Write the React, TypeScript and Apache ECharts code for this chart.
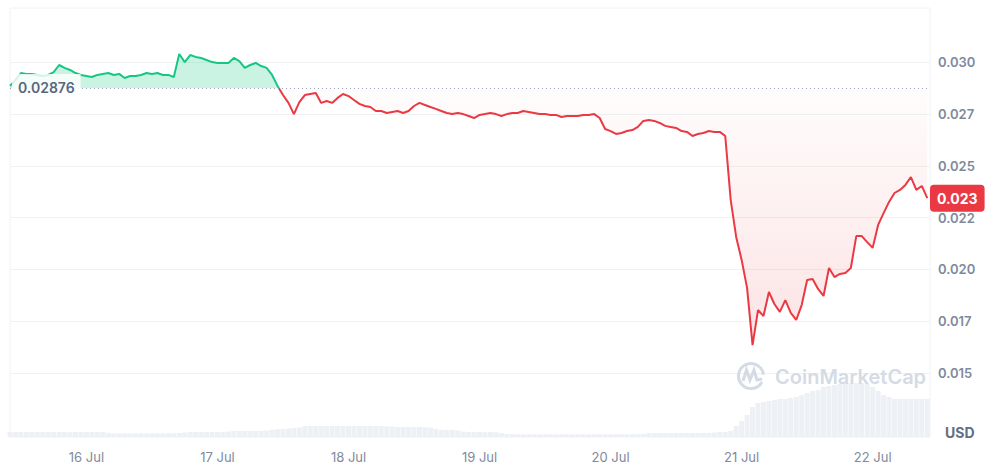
import React, { useEffect, useRef } from "react";
import * as echarts from "echarts";

// hours after 15 Jul 00:00 of the first hourly sample
const startHour = 10;
const refPrice = 0.02876;
const dayLabels = ["16 Jul", "17 Jul", "18 Jul", "19 Jul", "20 Jul", "21 Jul", "22 Jul"];
// price tick range shown on the right axis
const priceTickMin = 0.015;
const priceTickMax = 0.03;
const priceStep = 0.0025;

const prices = [
  0.02886, 0.02915, 0.02948, 0.02944, 0.02944, 0.02939, 0.02934, 0.02939, 0.02953, 0.02987,
  0.02973, 0.02963, 0.02948, 0.02939, 0.02934, 0.02929, 0.02939, 0.02944, 0.02948, 0.02939,
  0.02944, 0.02924, 0.02934, 0.02934, 0.02939, 0.02948, 0.02944, 0.02948, 0.02939, 0.02939,
  0.02929, 0.0304, 0.03001, 0.03035, 0.03026, 0.03021, 0.03011, 0.03001, 0.02997, 0.02997,
  0.02997, 0.03021, 0.03006, 0.02973, 0.02987, 0.02997, 0.02982, 0.02973, 0.02939, 0.02886,
  0.02842, 0.02804, 0.0275, 0.02808, 0.02842, 0.02847, 0.02852, 0.02804, 0.02813, 0.02804,
  0.02828, 0.02847, 0.02837, 0.02818, 0.02799, 0.02789, 0.02784, 0.02765, 0.02765, 0.02755,
  0.0276, 0.02765, 0.02755, 0.02765, 0.02789, 0.02804, 0.02794, 0.02784, 0.02775, 0.02765,
  0.02755, 0.0275, 0.02755, 0.0275, 0.02741, 0.02731, 0.02746, 0.0275, 0.02755, 0.0275,
  0.02741, 0.0275, 0.02755, 0.02755, 0.02765, 0.0276, 0.02755, 0.0275, 0.0275, 0.02746,
  0.02746, 0.02736, 0.02741, 0.02741, 0.02741, 0.02746, 0.02746, 0.0275, 0.02731, 0.02678,
  0.02668, 0.02654, 0.02659, 0.02668, 0.02673, 0.02688, 0.02717, 0.02721, 0.02717, 0.02707,
  0.02693, 0.02688, 0.02683, 0.02668, 0.02664, 0.02644, 0.02654, 0.02659, 0.02668, 0.02664,
  0.02664, 0.02644, 0.02335, 0.02157, 0.02046, 0.0191, 0.01635, 0.01804, 0.01775, 0.01891,
  0.01833, 0.01795, 0.01852, 0.0179, 0.01756, 0.01828, 0.01949, 0.01954, 0.01906, 0.01872,
  0.02007, 0.01963, 0.01978, 0.01983, 0.02007, 0.02161, 0.02161, 0.02132, 0.02104, 0.02215,
  0.02272, 0.02326, 0.02369, 0.02384, 0.02408, 0.02446, 0.02384, 0.02403, 0.02344,
];

// 24h volume (arbitrary units, relative)
const volumes = [
  0.5, 0.5, 0.51, 0.51, 0.5, 0.5, 0.5, 0.51, 0.5, 0.5,
  0.5, 0.49, 0.5, 0.5, 0.5, 0.49, 0.5, 0.5, 0.42, 0.37,
  0.37, 0.37, 0.36, 0.37, 0.37, 0.36, 0.37, 0.37, 0.37, 0.37,
  0.38, 0.4, 0.45, 0.5, 0.5, 0.5, 0.5, 0.51, 0.5, 0.5,
  0.55, 0.6, 0.6, 0.6, 0.61, 0.62, 0.62, 0.65, 0.72, 0.77,
  0.8, 0.85, 0.9, 0.95, 1.1, 1.1, 1.1, 1.11, 1.1, 1.1,
  1.1, 1.1, 1.11, 1.1, 1.1, 1.1, 1.09, 1.1, 1.1, 1.08,
  1.05, 1.0, 1.0, 1.0, 1.0, 1.0, 0.98, 0.95, 0.8, 0.72,
  0.7, 0.7, 0.65, 0.55, 0.5, 0.5, 0.5, 0.48, 0.5, 0.48,
  0.4, 0.3, 0.27, 0.27, 0.27, 0.27, 0.27, 0.27, 0.27, 0.27,
  0.27, 0.27, 0.27, 0.27, 0.27, 0.27, 0.27, 0.27, 0.27, 0.27,
  0.27, 0.27, 0.27, 0.27, 0.28, 0.28, 0.3, 0.4, 0.4, 0.4,
  0.4, 0.4, 0.4, 0.41, 0.4, 0.4, 0.4, 0.41, 0.4, 0.45,
  0.5, 0.52, 0.6, 1.1, 1.6, 2.2, 3.0, 3.4, 3.5, 3.6,
  3.7, 3.8, 3.8, 3.9, 4.0, 4.2, 4.4, 4.6, 4.7, 5.0,
  5.1, 5.2, 5.3, 5.4, 5.4, 5.4, 5.4, 5.3, 5.0, 4.6,
  4.2, 4.0, 3.8, 3.8, 3.8, 3.8, 3.8, 3.8, 3.8,
];

const GREEN = "#16c784";
const RED = "#ea3943";
const FONT = "Inter";
const HOURS_PER_DAY = 24;

function trunc3(v: number) {
  return (Math.floor(v * 1000 + 1e-6) / 1000).toFixed(3);
}
function isMultiple(v: number, step: number) {
  const k = v / step;
  return Math.abs(k - Math.round(k)) < 1e-6;
}

export default function App() {
  const ref = useRef<HTMLDivElement>(null);
  useEffect(() => {
    document.body.style.margin = "0";
    const chart = echarts.init(ref.current!, null, { renderer: "svg" });
    const lineData = prices.map((p, i) => [startHour + i, p]);
    const volData = volumes.map((v, i) => [startHour + i, v]);
    const pMax = Math.max(...prices);
    const pMin = Math.min(...prices);
    const f = (pMax - refPrice) / (pMax - pMin);
    const last = prices[prices.length - 1];

    const xCommon = {
      type: "value",
      min: 10,
      max: 178.5,
      minInterval: HOURS_PER_DAY,
      maxInterval: HOURS_PER_DAY,
      splitNumber: 7,
      axisLine: { show: false },
      axisTick: { show: false },
      splitLine: { show: false },
    };

    chart.setOption({
      animation: false,
      textStyle: { fontFamily: FONT },
      grid: [
        {
          left: 10,
          right: 72,
          top: 8,
          bottom: 33,
          show: true,
          borderColor: "#eff2f5",
          borderWidth: 1,
        },
        { left: 10, right: 72, top: 62.3, bottom: 97 },
      ],
      xAxis: [
        {
          ...xCommon,
          gridIndex: 0,
          axisLabel: {
            color: "#808a9d",
            fontSize: 13,
            fontFamily: FONT,
            margin: 13,
            formatter: (v: number) =>
              isMultiple(v, HOURS_PER_DAY) ? dayLabels[Math.round(v / HOURS_PER_DAY) - 1] ?? "" : "",
          },
        },
        { ...xCommon, gridIndex: 1, axisLabel: { show: false } },
      ],
      yAxis: [
        {
          type: "value",
          gridIndex: 1,
          position: "right",
          min: priceTickMin,
          max: priceTickMax,
          interval: priceStep,
          axisLine: { show: false },
          axisTick: { show: false },
          splitLine: { lineStyle: { color: "#eff2f5", width: 1 } },
          axisLabel: {
            color: "#808a9d",
            fontSize: 13,
            fontWeight: 600,
            fontFamily: FONT,
            margin: 8,
            formatter: (v: number) => trunc3(v),
          },
        },
        { type: "value", gridIndex: 0, min: 0, max: 42.9, show: false },
      ],
      visualMap: {
        show: false,
        type: "piecewise",
        seriesIndex: 1,
        dimension: 1,
        pieces: [
          { gt: refPrice, lte: 1, color: GREEN },
          { gt: 0, lte: refPrice, color: RED },
        ],
      },
      series: [
        {
          type: "bar",
          xAxisIndex: 0,
          yAxisIndex: 1,
          data: volData,
          barWidth: 5,
          itemStyle: { color: "#edf0f5" },
          silent: true,
          z: 1,
        },
        {
          type: "line",
          xAxisIndex: 1,
          yAxisIndex: 0,
          data: lineData,
          clip: false,
          symbol: "none",
          showSymbol: false,
          lineStyle: { width: 2 },
          z: 3,
          areaStyle: {
            origin: refPrice,
            color: {
              type: "linear",
              x: 0,
              y: 0,
              x2: 0,
              y2: 1,
              colorStops: [
                { offset: 0, color: "rgba(22,199,132,0.32)" },
                { offset: f, color: "rgba(22,199,132,0.32)" },
                { offset: f, color: "rgba(234,57,67,0.02)" },
                { offset: 1, color: "rgba(234,57,67,0.2)" },
              ],
            },
          },
          markLine: {
            silent: true,
            symbol: "none",
            precision: 6,
            data: [
              {
                yAxis: refPrice,
                lineStyle: { color: "#9aa3b5", type: [1, 3], width: 1 },
                label: {
                  show: true,
                  position: "insideStart",
                  distance: 2,
                  formatter: String(refPrice),
                  color: "#58667e",
                  fontSize: 14,
                  fontWeight: 600,
                  fontFamily: FONT,
                  backgroundColor: "rgba(255,255,255,0.8)",
                  padding: [10, 6, 4, 6],
                },
              },
              {
                yAxis: last,
                lineStyle: { color: "transparent", width: 0 },
                label: {
                  show: true,
                  position: "end",
                  distance: 0,
                  opacity: 1,
                  formatter: trunc3(last),
                  color: "#ffffff",
                  fontSize: 14,
                  fontWeight: 700,
                  fontFamily: FONT,
                  backgroundColor: RED,
                  borderRadius: 4,
                  padding: [7, 7, 6, 7],
                },
              },
            ],
          },
        },
      ],
      graphic: [
        {
          type: "arc",
          silent: true,
          z: 20,
          shape: { cx: 751, cy: 376, r: 12.5, startAngle: 0.5, endAngle: Math.PI * 2 - 0.1 },
          style: { stroke: "#d5dbe5", lineWidth: 3, fill: "none" },
        },
        {
          type: "polyline",
          silent: true,
          z: 20,
          shape: {
            points: [
              [743, 381],
              [746.5, 370],
              [750, 380],
              [754, 370],
              [757, 380],
              [762, 379],
            ],
          },
          style: { stroke: "#d5dbe5", lineWidth: 3, fill: "none" },
        },
        {
          type: "text",
          silent: true,
          z: 20,
          x: 775,
          y: 377,
          style: {
            text: "CoinMarketCap",
            fontSize: 20,
            fontWeight: 600,
            fontFamily: FONT,
            fill: "#d5dbe5",
            verticalAlign: "middle",
          },
        },
        {
          type: "text",
          silent: true,
          z: 20,
          x: 945,
          y: 432,
          style: {
            text: "USD",
            fontSize: 14,
            fontWeight: 700,
            fontFamily: FONT,
            fill: "#616e85",
            verticalAlign: "middle",
          },
        },
      ],
    });
    return () => chart.dispose();
  }, []);
  return <div ref={ref} style={{ width: 1002, height: 470 }} />;
}
